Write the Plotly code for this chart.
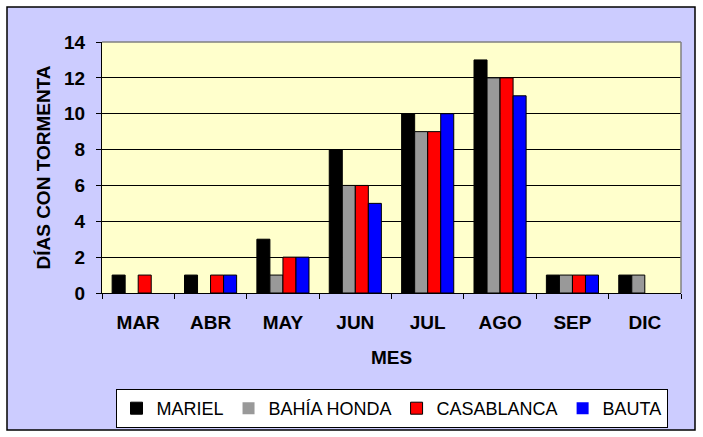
import plotly.graph_objects as go

# Días con tormenta por mes y estación
meses = ['MAR', 'ABR', 'MAY', 'JUN', 'JUL', 'AGO', 'SEP', 'DIC']
mariel = [1, 1, 3, 8, 10, 13, 1, 1]
bahia_honda = [0, 0, 1, 6, 9, 12, 1, 1]
casablanca = [1, 1, 2, 6, 9, 12, 1, 0]
bauta = [0, 1, 2, 5, 10, 11, 1, 0]

series = [
    ('MARIEL', mariel, '#000000'),
    ('BAHÍA HONDA', bahia_honda, '#999999'),
    ('CASABLANCA', casablanca, '#FF0000'),
    ('BAUTA', bauta, '#0000FF'),
]

W, H = 703, 437
ml, mr, mt, mb = 102, 22, 42, 144
pw, ph = W - ml - mr, H - mt - mb

fig = go.Figure()
for nombre, valores, color in series:
    fig.add_trace(go.Bar(
        x=meses, y=valores, name=nombre,
        marker=dict(color=color,
                    line=dict(color='#000000', width=[1 if v else 0 for v in valores])),
    ))

# marco exterior lavanda (coordenadas en fracción del área de trazado)
def px_x(p):
    return (p - ml) / pw

def px_y(p):
    return (H - mb - p) / ph

fig.add_shape(type='rect', xref='paper', yref='paper', layer='below',
              x0=px_x(7), x1=px_x(695), y0=px_y(430), y1=px_y(7),
              fillcolor='#CCCCFF', line=dict(color='#000000', width=1.5))
# fondo amarillo del área de trazado
fig.add_shape(type='rect', xref='paper', yref='paper', layer='below',
              x0=0, x1=1, y0=0, y1=1,
              fillcolor='#FFFFCC', line=dict(width=0))
# borde gris superior y derecho del área de trazado
fig.add_shape(type='line', xref='paper', yref='paper', x0=0, x1=1, y0=1, y1=1,
              line=dict(color='#808080', width=1.5))
fig.add_shape(type='line', xref='paper', yref='paper', x0=1, x1=1, y0=0, y1=1,
              line=dict(color='#808080', width=1.5))

fuente = dict(family='Arial', size=19, color='#000000', weight='bold')

fig.update_layout(
    width=W, height=H,
    margin=dict(l=ml, r=mr, t=mt, b=mb, autoexpand=False),
    paper_bgcolor='#FFFFFF',
    plot_bgcolor='#FFFFCC',
    barmode='group',
    bargap=0.28,
    bargroupgap=0,
    showlegend=True,
    legend=dict(
        orientation='h', x=0.5, xanchor='center', y=px_y(389), yanchor='top',
        bgcolor='#FFFFFF', bordercolor='#000000', borderwidth=1,
        font=dict(family='Arial', size=18, color='#000000'),
        itemwidth=30, traceorder='normal',
    ),
)

fig.update_xaxes(
    title=dict(text='MES', font=fuente, standoff=18),
    tickfont=fuente,
    showline=True, linecolor='#000000', linewidth=1,
    ticks='outside', ticklen=5, tickcolor='#000000', tickson='boundaries',
    ticklabelstandoff=12,
    showgrid=False,
)
fig.update_yaxes(
    title=dict(text='DÍAS CON TORMENTA', font=fuente, standoff=8),
    tickfont=fuente,
    range=[0, 14], dtick=2,
    showline=True, linecolor='#000000', linewidth=1,
    ticks='outside', ticklen=5, tickcolor='#000000',
    ticklabelstandoff=7,
    showgrid=True, gridcolor='#000000', gridwidth=1,
    zeroline=False,
)

fig.write_html('out.html', config={'displayModeBar': False},
               post_script="document.body.style.margin='0';")
